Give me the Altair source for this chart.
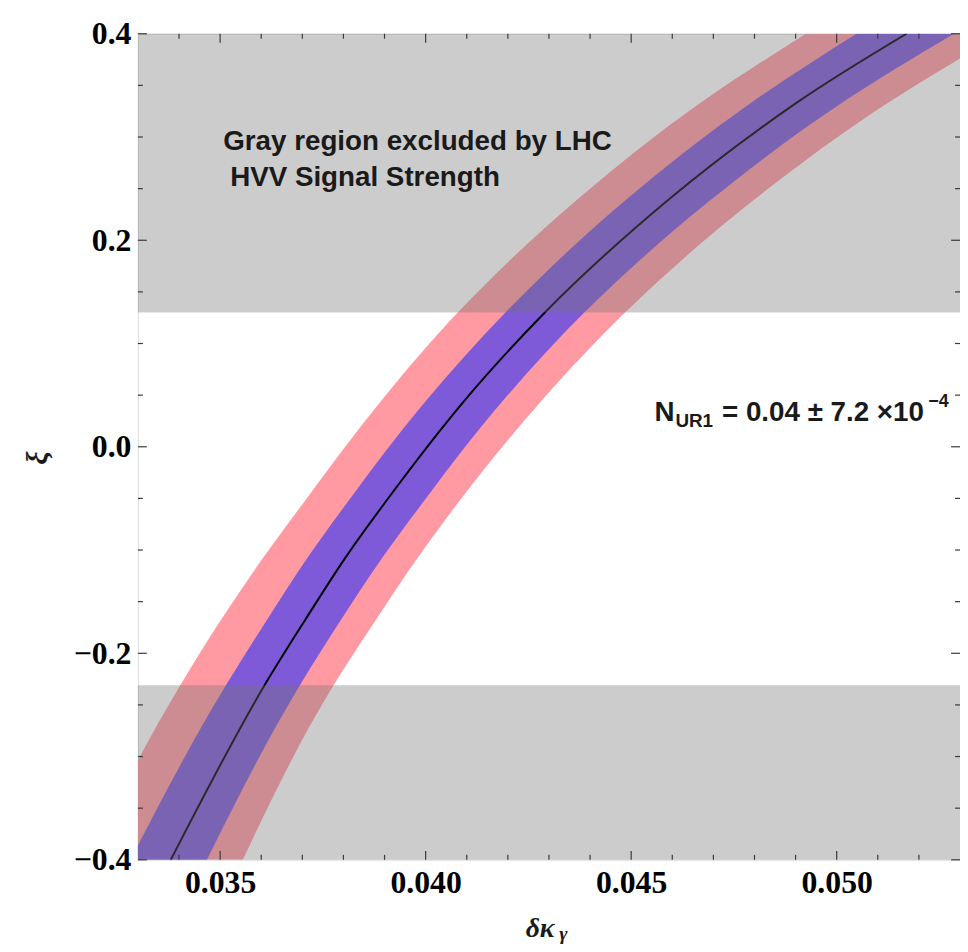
import altair as alt
import pandas as pd

# ---------------- data ----------------
xi_levels   = [-0.4, -0.231, -0.167, -0.109, -0.052, 0.045, 0.130, 0.237, 0.333, 0.4]
center_line = [0.03380, 0.03608, 0.03708, 0.03802, 0.03905, 0.04095, 0.04290, 0.04584, 0.04902, 0.05170]
blue_left   = [0.03282, 0.03514, 0.03615, 0.03710, 0.03813, 0.04002, 0.04194, 0.04481, 0.04791, 0.05048]
blue_right  = [0.03468, 0.03694, 0.03795, 0.03892, 0.03997, 0.04189, 0.04386, 0.04687, 0.05012, 0.05285]
pink_left   = [0.03175, 0.03403, 0.03503, 0.03602, 0.03707, 0.03893, 0.04078, 0.04362, 0.04668, 0.04925]
pink_right  = [0.03555, 0.03776, 0.03880, 0.03978, 0.04083, 0.04283, 0.04485, 0.04792, 0.05124, 0.05402]

gray_lower = [-0.4, -0.231]
gray_upper = [0.130, 0.4]

x_domain = [0.033, 0.053]
y_domain = [-0.4, 0.4]

x_major = [0.035, 0.040, 0.045, 0.050]
x_minor = [0.034, 0.036, 0.037, 0.038, 0.039, 0.041, 0.042, 0.043, 0.044,
           0.046, 0.047, 0.048, 0.049, 0.051, 0.052]
y_major = [-0.4, -0.2, 0.0, 0.2, 0.4]
y_minor = [-0.35, -0.3, -0.25, -0.15, -0.1, -0.05, 0.05, 0.1, 0.15, 0.25, 0.3, 0.35]

text_gray_1 = "Gray region excluded by LHC"
text_gray_2 = "HVV Signal Strength"
text_n_main = "N"
text_n_sub = "UR1"
text_n_rest = "= 0.04 ± 7.2 ×10"
text_n_sup = "−4"
x_title_main = "δκ"
x_title_sub = "γ"
y_title = "ξ"

# ---------------- styling ----------------
W, H = 829, 833
PINK = "#FF9AA3"
BLUE = "#7F5AD8"
GRAY_OVER = "#747474"
FRAME = "#3a3a3a"
MAJ, MIN = 9, 5

band_df = pd.DataFrame({
    "xi": xi_levels, "center": center_line,
    "blue_l": blue_left, "blue_r": blue_right,
    "pink_l": pink_left, "pink_r": pink_right,
})
gray_df = pd.DataFrame({
    "y0": [gray_lower[0], gray_upper[0]], "y1": [gray_lower[1], gray_upper[1]],
    "x0": [x_domain[0]] * 2, "x1": [x_domain[1]] * 2,
})

xs = alt.Scale(domain=x_domain, nice=False, zero=False)
ys = alt.Scale(domain=y_domain, nice=False, zero=False)

lab = dict(labelFont="Liberation Serif", labelFontWeight="bold", labelFontSize=32,
           labelColor="black", grid=False, ticks=False, domain=False, title=None,
           labelFlush=False, labelOverlap=False)
x_axis = alt.Axis(values=x_major, format=".3f", labelPadding=8, **lab)
y_axis = alt.Axis(values=y_major, format=".1f", labelPadding=7, **lab)


def X(field):
    return alt.X(field, scale=xs, axis=x_axis)


def Y(field):
    return alt.Y(field, scale=ys, axis=y_axis)


pink = alt.Chart(band_df).mark_area(color=PINK, orient="horizontal",
                                    interpolate="monotone", clip=True).encode(
    y=Y("xi:Q"), x=X("pink_l:Q"), x2="pink_r:Q",
)
blue = alt.Chart(band_df).mark_area(color=BLUE, orient="horizontal",
                                    interpolate="monotone", clip=True).encode(
    y=Y("xi:Q"), x=X("blue_l:Q"), x2="blue_r:Q",
)
line = alt.Chart(band_df).mark_line(color="black", strokeWidth=2,
                                    interpolate="monotone", clip=True).encode(
    x=X("center:Q"), y=Y("xi:Q"), order="xi:Q",
)
gray = alt.Chart(gray_df).mark_rect(color=GRAY_OVER, opacity=0.366).encode(
    x=X("x0:Q"), x2="x1:Q", y=Y("y0:Q"), y2="y1:Q",
)


def yticks(vals, L):
    d = alt.Chart(pd.DataFrame({"v": vals}))
    left = d.mark_rule(color=FRAME, strokeWidth=1.2).encode(
        y=Y("v:Q"), x=alt.value(0), x2=alt.value(L))
    right = d.mark_rule(color=FRAME, strokeWidth=1.2).encode(
        y=Y("v:Q"), x=alt.value(W), x2=alt.value(W - L))
    return [left, right]


def xticks(vals, L):
    d = alt.Chart(pd.DataFrame({"v": vals}))
    bottom = d.mark_rule(color=FRAME, strokeWidth=1.2).encode(
        x=X("v:Q"), y=alt.value(H), y2=alt.value(H - L))
    top = d.mark_rule(color=FRAME, strokeWidth=1.2).encode(
        x=X("v:Q"), y=alt.value(0), y2=alt.value(L))
    return [bottom, top]


def label(txt, x, y, size, font="Liberation Sans", style="normal"):
    return alt.Chart(pd.DataFrame({"t": [txt]})).mark_text(
        font=font, fontSize=size, fontWeight="bold", fontStyle=style, color="#1a1a1a",
        align="left", baseline="alphabetic",
    ).encode(text="t:N", x=alt.value(x), y=alt.value(y))


texts = [
    label(text_gray_1, 86, 117, 28),
    label(text_gray_2, 93, 154, 28),
    label(text_n_main, 521, 391, 28),
    label(text_n_sub, 542, 397, 19),
    label(text_n_rest, 589, 391, 28),
    label(text_n_sup, 797, 376, 18),
    label(x_title_main, 391, 911, 28, font="Liberation Serif", style="italic"),
    label(x_title_sub, 425, 914, 20, font="Liberation Serif", style="italic"),
    alt.Chart(pd.DataFrame({"t": [y_title]})).mark_text(
        font="Liberation Serif", fontSize=30, fontWeight="bold", fontStyle="italic",
        color="#1a1a1a", align="center", baseline="middle", angle=270,
    ).encode(text="t:N", x=alt.value(-101), y=alt.value(428)),
]

layers = [pink, blue, line, gray] + yticks(y_major, MAJ) + yticks(y_minor, MIN) \
    + xticks(x_major, MAJ) + xticks(x_minor, MIN) + texts

chart = alt.layer(*layers).properties(
    width=W, height=H,
    autosize=alt.AutoSizeParams(type="none"),
    padding={"left": 131, "top": 22, "right": 0, "bottom": 88},
).configure_view(stroke=FRAME, strokeWidth=1.5).configure(background="white")

chart.save("out.html", embed_options={"renderer": "svg", "actions": False})
